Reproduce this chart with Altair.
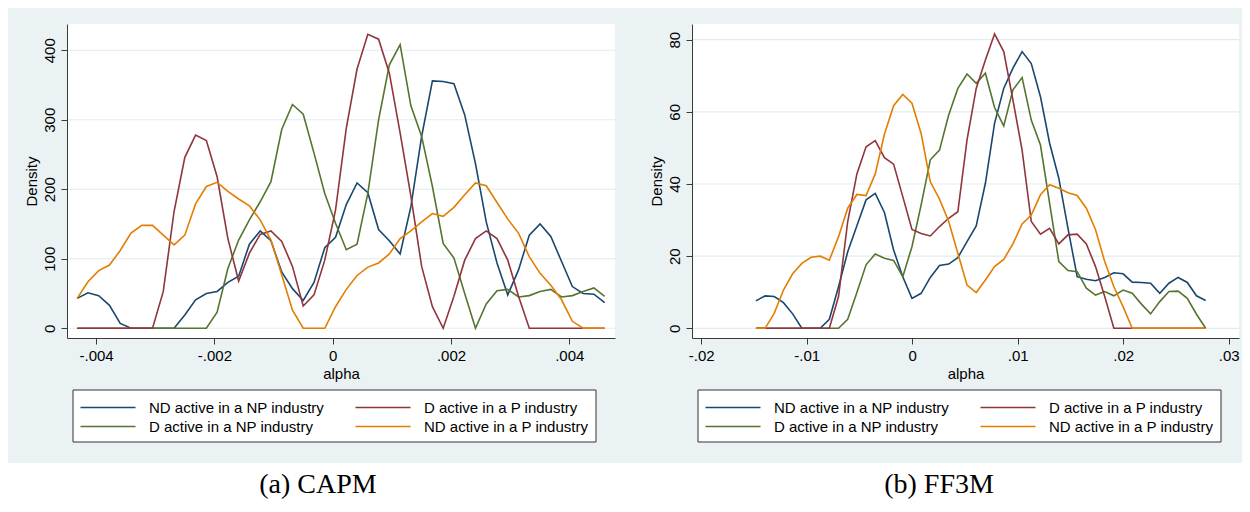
import altair as alt
import pandas as pd

names = ["ND active in a NP industry", "D active in a NP industry",
         "D active in a P industry", "ND active in a P industry"]
colors = ["#1a476f", "#55752f", "#90353b", "#e37e00"]

# ---------------- Panel (a) CAPM ----------------
xA = [-0.004320, -0.004138, -0.003956, -0.003774, -0.003592, -0.003410, -0.003228, -0.003046,
      -0.002864, -0.002682, -0.002500, -0.002318, -0.002136, -0.001954, -0.001772, -0.001590,
      -0.001408, -0.001226, -0.001044, -0.000862, -0.000680, -0.000498, -0.000316, -0.000134,
      0.000048, 0.000230, 0.000412, 0.000594, 0.000776, 0.000958, 0.001140, 0.001322,
      0.001504, 0.001686, 0.001868, 0.002050, 0.002232, 0.002414, 0.002596, 0.002778,
      0.002960, 0.003142, 0.003324, 0.003506, 0.003688, 0.003870, 0.004052, 0.004234,
      0.004416, 0.004598]
nd_np_A = [43, 51, 47, 33, 7, 0, 0, 0, 0, 0, 19, 41, 50, 53, 66, 75, 121, 140, 126, 81,
           57, 40, 66, 116, 131, 178, 209, 195, 142, 126, 107, 175, 276, 356, 355, 352, 307, 237, 153, 94,
           48, 84, 134, 150, 132, 96, 60, 50, 49, 37]
d_np_A = [0, 0, 0, 0, 0, 0, 0, 0, 0, 0, 0, 0, 0, 23, 86, 127, 156, 182, 211, 286,
          322, 308, 252, 194, 151, 113, 121, 194, 300, 379, 408, 320, 276, 204, 122, 101, 50, 0, 35, 54,
          56, 45, 47, 53, 56, 45, 47, 53, 58, 46]
d_p_A = [0, 0, 0, 0, 0, 0, 0, 0, 53, 168, 246, 278, 270, 218, 129, 68, 108, 135, 140, 125,
         89, 32, 48, 98, 170, 288, 373, 423, 416, 367, 281, 190, 89, 31, 0, 46, 98, 129, 140, 129,
         98, 46, 0, 0, 0, 0, 0, 0, 0, 0]
nd_p_A = [43, 67, 83, 91, 112, 137, 148, 148, 134, 120, 134, 179, 204, 210, 197, 186, 176, 156, 127, 77,
          26, 0, 0, 0, 31, 56, 76, 88, 94, 107, 129, 140, 153, 165, 161, 174, 192, 209, 205, 181,
          157, 137, 103, 79, 62, 41, 10, 0, 0, 0]
xticksA = [-0.004, -0.002, 0, 0.002, 0.004]
yticksA = [0, 100, 200, 300, 400]

# ---------------- Panel (b) FF3M ----------------
xB = [-0.01482, -0.01395, -0.01308, -0.01221, -0.01134, -0.01047, -0.00960, -0.00873, -0.00786, -0.00699,
      -0.00612, -0.00525, -0.00438, -0.00351, -0.00264, -0.00177, -0.00090, -0.00003, 0.00084, 0.00171,
      0.00258, 0.00345, 0.00432, 0.00519, 0.00606, 0.00693, 0.00780, 0.00867, 0.00954, 0.01041,
      0.01128, 0.01215, 0.01302, 0.01389, 0.01476, 0.01563, 0.01650, 0.01737, 0.01824, 0.01911,
      0.01998, 0.02085, 0.02172, 0.02259, 0.02346, 0.02433, 0.02520, 0.02607, 0.02694, 0.02781]
nd_np_B = [7.6, 9.0, 8.8, 7.1, 4.0, 0, 0, 0, 2.5, 11.5, 21.2, 28.4, 35.6, 37.4, 32.1, 21.7, 14.3, 8.3, 9.7, 14.1,
           17.4, 17.8, 19.6, 24.0, 28.4, 40.2, 56.8, 66.5, 72.1, 76.7, 73.4, 64.2, 51.3, 41.6, 27.7, 14.3,
           13.6, 13.2, 14.1, 15.4, 15.1, 12.8, 12.7, 12.5, 9.7, 12.5, 14.1, 12.7, 9.0, 7.7]
d_np_B = [0, 0, 0, 0, 0, 0, 0, 0, 0, 0, 2.5, 9.9, 17.6, 20.6, 19.4, 18.8, 14.3, 22.6, 34.2, 46.7,
          49.4, 59.1, 66.5, 70.5, 67.9, 70.7, 61.2, 56.1, 66.1, 69.5, 57.7, 50.8, 34.6, 18.5, 16.0, 15.7,
          11.1, 9.2, 10.2, 9.0, 10.6, 9.7, 6.7, 4.0, 7.4, 10.2, 10.3, 8.3, 3.9, 0]
d_p_B = [0, 0, 0, 0, 0, 0, 0, 0, 0, 8.8, 29.6, 42.8, 50.3, 52.0, 47.3, 45.5, 36.5, 27.4, 26.3, 25.6,
         28.2, 30.5, 32.3, 52.2, 66.5, 74.4, 81.6, 76.7, 63.3, 49.4, 29.6, 26.1, 27.7, 23.4, 25.9, 26.1,
         23.4, 17.1, 8.8, 0, 0, 0, 0, 0, 0, 0, 0, 0, 0, 0]
nd_p_B = [0, 0, 4.2, 10.6, 15.1, 18.0, 19.7, 20.0, 18.9, 25.4, 33.3, 37.1, 36.8, 42.8, 53.8, 61.7, 64.8, 62.4,
          54.0, 40.6, 35.8, 29.6, 20.8, 12.0, 9.9, 13.4, 17.1, 19.1, 23.4, 28.9, 31.4, 37.0, 39.8, 38.8,
          37.6, 36.8, 33.3, 27.3, 18.5, 11.5, 6.0, 0, 0, 0, 0, 0, 0, 0, 0, 0]
xticksB = [-0.02, -0.01, 0, 0.01, 0.02, 0.03]
yticksB = [0, 20, 40, 60, 80]

BG = "#eaf2f3"
GRID = "#e2ebee"
AX = "#3a3a3a"
SANS = "Liberation Sans"
SERIF = "Liberation Serif"

XLAB = ("datum.value == 0 ? '0' : (datum.value < 0 ? '-' : '') + "
        "replace(format(abs(datum.value), '~g'), '0.', '.')")


def long_df(x, series):
    rows = []
    for name, vals in zip(names, series):
        for xv, yv in zip(x, vals):
            rows.append({"alpha": xv, "density": yv, "series": name})
    return pd.DataFrame(rows)


def panel(df, xdom, xticks, ydom, yticks, caption, W, H, bgx, bgx2, capx):
    one = pd.DataFrame({"k": [0]})
    yaxis = alt.Axis(values=yticks, title="Density", grid=False, labelAngle=270,
                     tickSize=6, labelPadding=4, titlePadding=3, zindex=1,
                     domainColor=AX, tickColor=AX, labelColor="black",
                     titleColor="black", labelFont=SANS, titleFont=SANS,
                     labelFontSize=15, titleFontSize=15, titleFontWeight="normal",
                     labelFlush=False)
    yscale = alt.Scale(domain=ydom, nice=False, zero=False)
    bg = alt.Chart(one).mark_rect(color=BG).encode(
        x=alt.value(bgx), x2=alt.value(bgx2), y=alt.value(-16), y2=alt.value(439))
    plotbg = alt.Chart(one).mark_rect(color="white").encode(
        x=alt.value(0), x2=alt.value(W), y=alt.value(0), y2=alt.value(H))
    grid = alt.Chart(pd.DataFrame({"density": yticks})).mark_rule(
        color=GRID, strokeWidth=1.2).encode(
        y=alt.Y("density:Q", scale=yscale, axis=yaxis))
    lines = alt.Chart(df).mark_line(strokeWidth=1.6).encode(
        x=alt.X("alpha:Q", scale=alt.Scale(domain=xdom, nice=False, zero=False),
                axis=alt.Axis(values=xticks, title="alpha", labelExpr=XLAB, grid=False,
                              tickSize=6, labelPadding=4, titlePadding=3, zindex=1,
                              domainColor=AX, tickColor=AX, labelColor="black",
                              titleColor="black", labelFont=SANS, titleFont=SANS,
                              labelFontSize=15, titleFontSize=15, titleFontWeight="normal",
                              labelFlush=False)),
        y=alt.Y("density:Q", scale=yscale, axis=yaxis),
        color=alt.Color("series:N", sort=names,
                        scale=alt.Scale(domain=names, range=colors),
                        legend=alt.Legend(title=None, orient="none", legendX=5.5, legendY=365.5,
                                          columns=2, symbolType="M-2.75,0H2.75", symbolSize=400,
                                          symbolStrokeWidth=1.5, symbolOffset=17.5, labelOffset=30,
                                          columnPadding=28, rowPadding=-1, padding=7,
                                          strokeColor="#333", fillColor="white",
                                          labelFont=SANS, labelFontSize=15, labelColor="black",
                                          labelLimit=400, cornerRadius=0)),
        detail="series:N",
    )
    cap = alt.Chart(one).mark_text(font=SERIF, fontSize=28, color="black", align="center",
                                   baseline="alphabetic").encode(
        x=alt.value(capx), y=alt.value(469), text=alt.value(caption))
    return alt.layer(bg, plotbg, grid, lines, cap).properties(width=W, height=H)


WA, WB, H = 548, 547, 314
chartA = panel(long_df(xA, [nd_np_A, d_np_A, d_p_A, nd_p_A]), [-0.004492, 0.004773], xticksA,
               [-14.0, 437.8], yticksA, "(a) CAPM", WA, H, -59, WA + 13, 251)
chartB = panel(long_df(xB, [nd_np_B, d_np_B, d_p_B, nd_p_B]), [-0.02088, 0.03097], xticksB,
               [-2.69, 84.35], yticksB, "(b) FF3M", WB, H, -64, WB + 3, 247)

chart = alt.hconcat(chartA, chartB, spacing=0).resolve_legend(color="independent").configure_view(
    stroke=None).properties(padding=0, background="white")

chart.save("out.html", embed_options={"renderer": "svg", "actions": False})
